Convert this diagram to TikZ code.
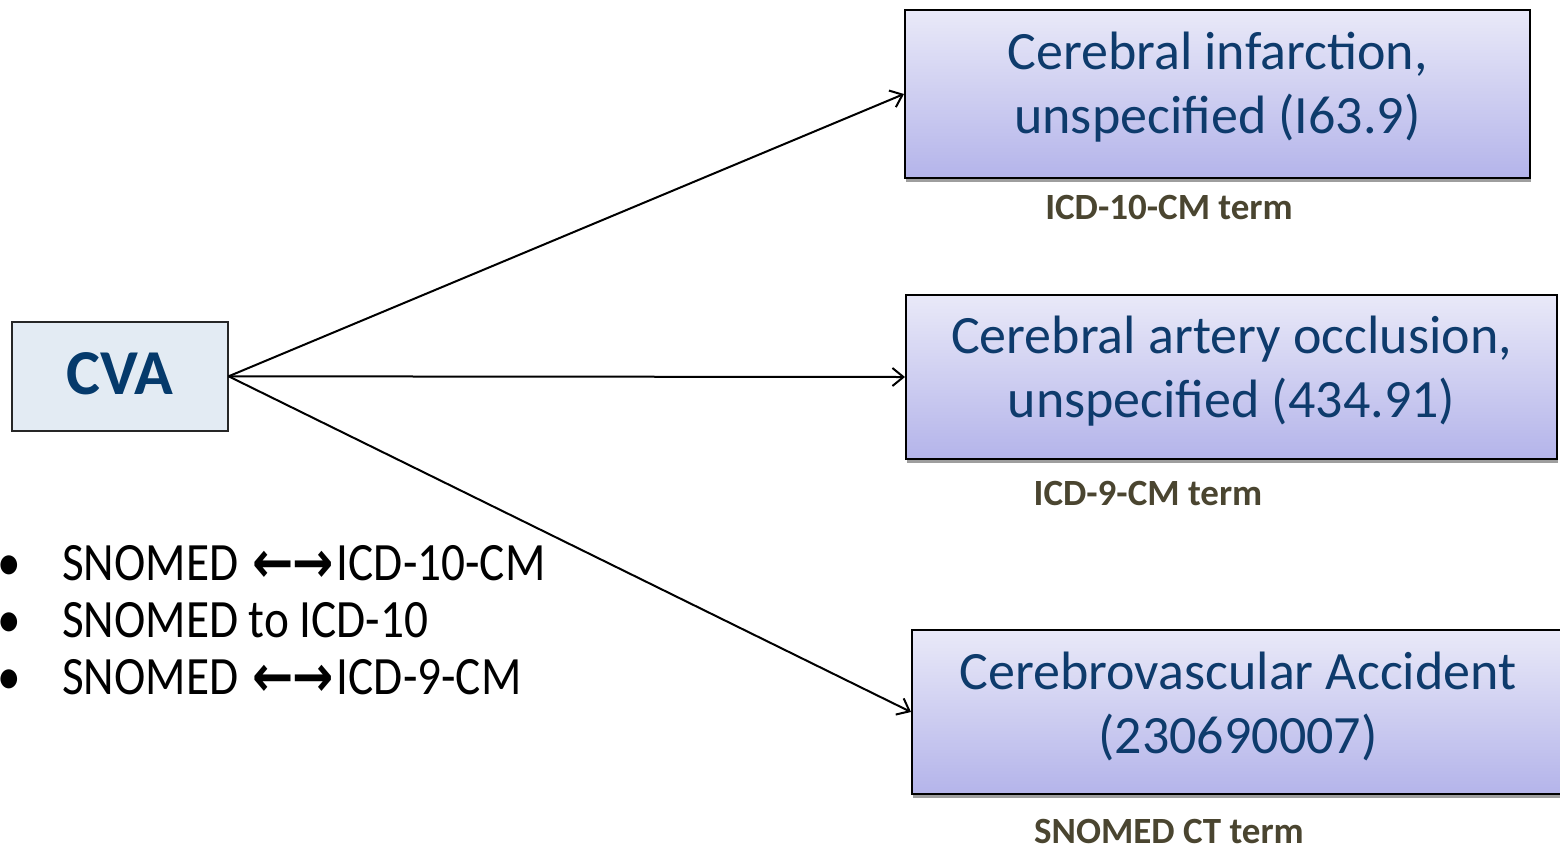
\documentclass[tikz,border=0pt]{standalone}
\usepackage{fontspec}
\setmainfont{Carlito}
\newfontfamily\bulletfont[FakeStretch=0.875]{Carlito}
\newfontfamily\arrowfont[FakeStretch=0.85]{DejaVu Sans Bold}
\usetikzlibrary{arrows.meta,shadows}
\definecolor{navy}{HTML}{0E3B6C}
\definecolor{cvanavy}{HTML}{053A6B}
\definecolor{boxtop}{HTML}{E9E9F8}
\definecolor{boxbot}{HTML}{B4B4EA}
\definecolor{cvafill}{HTML}{E3EBF3}
\definecolor{labelcol}{HTML}{4A4530}
\newcommand{\lrarrows}{\kern14pt\raisebox{-2pt}{\fontsize{58}{64}\arrowfont ←\kern-1pt→}\kern3pt}
\begin{document}
\begin{tikzpicture}[x=1pt,y=-1pt,
  termbox/.style={draw=black, line width=2pt, top color=boxtop, bottom color=boxbot,
    inner sep=0pt, anchor=north west,
    drop shadow={shadow xshift=1pt, shadow yshift=-4pt, fill=black!38, opacity=1}},
  termtext/.style={text=navy, font=\fontsize{54}{64}\selectfont, align=center, inner sep=0pt},
  cvabox/.style={draw=black!85, line width=1.6pt, fill=cvafill, inner sep=0pt, anchor=north west},
  cvatext/.style={text=cvanavy, font=\fontsize{64}{70}\selectfont\bfseries, inner sep=0pt},
  termlabel/.style={text=labelcol, font=\fontsize{37}{42}\selectfont\bfseries},
  bullettext/.style={anchor=base west, font=\fontsize{54}{60}\bulletfont, inner sep=0pt},
  bulletdot/.style={anchor=base, font=\fontsize{54}{60}\bulletfont, inner sep=0pt},
  conn/.style={line width=2pt, -{Straight Barb[length=11pt,width=18pt,line width=2pt]}}]
\useasboundingbox (0,0) rectangle (1560,847);
\node[cvabox, minimum width=216pt, minimum height=109pt] (cva) at (11,321) {};
\node[cvatext] (cvat) at ([yshift=3pt]cva.center) {CVA};
\node[termbox, minimum width=625pt, minimum height=168pt] (b1) at (904,9) {};
\node[termtext] (b1t) at ([yshift=7pt]b1.center) {Cerebral infarction,\\unspecified (I63.9)};
\node[termbox, minimum width=651pt, minimum height=164pt] (b2) at (905,294) {};
\node[termtext] (b2t) at ([yshift=6pt]b2.center) {Cerebral artery occlusion,\\unspecified (434.91)};
\node[termbox, minimum width=652pt, minimum height=164pt] (b3) at (911,629) {};
\node[termtext] (b3t) at ([yshift=6pt]b3.center) {Cerebrovascular Accident\\(230690007)};
\node[termlabel] (l1) at (1169,207) {ICD-10-CM term};
\node[termlabel] (l2) at (1148,493) {ICD-9-CM term};
\node[termlabel] (l3) at (1169,831) {SNOMED CT term};
\draw[conn] (cva.east) -- (b1.west);
\draw[conn] (cva.east) -- (b2.west);
\draw[conn] (cva.east) -- (b3.west);
\node[bulletdot] (d1) at (9,580) {•};
\node[bulletdot] (d2) at (9,637) {•};
\node[bulletdot] (d3) at (9,694) {•};
\node[bullettext] (t1) at (62,580) {SNOMED\lrarrows ICD-10-CM};
\node[bullettext] (t2) at (62,637) {SNOMED to ICD-10};
\node[bullettext] (t3) at (62,694) {SNOMED\lrarrows ICD-9-CM};
\end{tikzpicture}
\end{document}
